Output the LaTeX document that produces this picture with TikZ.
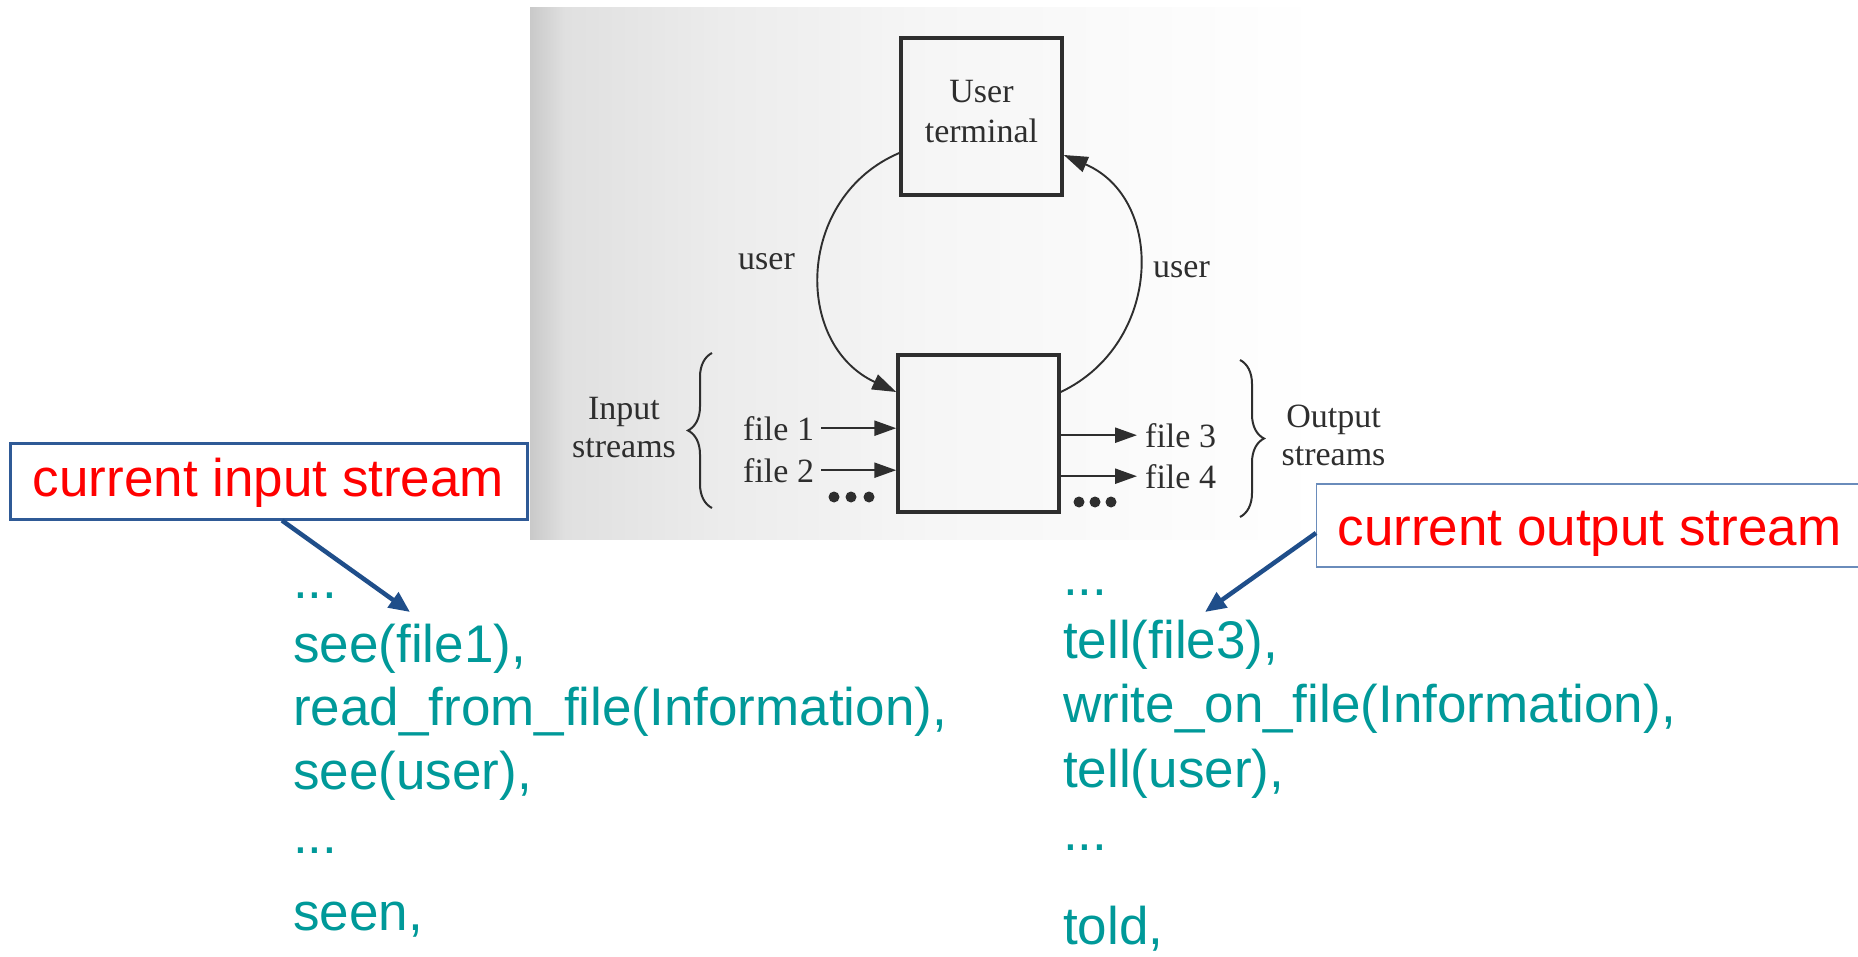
\documentclass[tikz,border=0pt]{standalone}
\usepackage{fontspec}
\usetikzlibrary{arrows.meta,decorations.pathreplacing,calc}
\newfontfamily\slidefont{Liberation Sans}
\newfontfamily\scanfont{Liberation Serif}
\definecolor{tealtext}{HTML}{009999}
\definecolor{scanink}{HTML}{2E2E2E}
\definecolor{arrowblue}{HTML}{1F4E8A}
\definecolor{inborder}{HTML}{2F5A96}
\definecolor{outborder}{HTML}{6A8CBB}
\definecolor{scanA}{HTML}{C9C9C9}
\definecolor{scanB}{HTML}{E0E0E0}
\definecolor{scanC}{HTML}{ECECEC}
\definecolor{scanD}{HTML}{F6F6F6}
\pgfdeclarehorizontalshading{scanshade}{100bp}{color(0bp)=(scanA); color(25bp)=(scanA); color(27bp)=(scanB); color(36bp)=(scanC); color(48bp)=(scanD); color(70bp)=(white); color(100bp)=(white)}
\begin{document}
\begin{tikzpicture}[x=1pt,y=-1pt,
  scantext/.style={font=\scanfont\fontsize{34}{38}\selectfont, text=scanink, inner sep=0pt},
  slidetext/.style={font=\slidefont\fontsize{53}{60}\selectfont, text=tealtext, inner sep=0pt, anchor=base west},
  scanbox/.style={draw=scanink, line width=3.5pt, minimum width=161pt, minimum height=157pt, inner sep=0pt},
  scanline/.style={draw=scanink, line width=1.9pt},
  scanarrow/.style={draw=scanink, line width=2.4pt, -{Triangle[length=22pt,width=15pt]}},
  calloutarrow/.style={draw=arrowblue, line width=4.5pt, -{Triangle[length=21pt,width=18pt]}},
  callout/.style={fill=white, font=\slidefont\fontsize{53}{60}\selectfont, text=red, inner sep=0pt}
]
\useasboundingbox (0,0) rectangle (1858,957);
\fill[white] (0,0) rectangle (1858,957);
% scanned figure background
\shade[shading=scanshade] (530,8) rectangle (1410,539);

% boxes
\node[scanbox] (term) at (981.5,116.5) {};
\node[scantext, align=center, font=\scanfont\fontsize{34}{40}\selectfont] (termtext) at ([yshift=4.5pt]term.center) {User\\terminal};
\node[scanbox] (proc) at (978.5,433.5) {};

% arcs
\draw[scanline, -{Triangle[length=24pt,width=16pt]}] ([yshift=-36.5pt]term.west) .. controls (796,197) and (793,344) .. ([yshift=41.5pt]proc.west);
\draw[scanline, -{Triangle[length=24pt,width=16pt]}] ([yshift=41.5pt]proc.east) .. controls (1162,344) and (1166,199) .. ([yshift=-38.5pt]term.east);
\node[scantext, anchor=base west] (userl) at (738,270) {user};
\node[scantext, anchor=base west] (userr) at (1153,278) {user};

% input files
\node[scantext, anchor=base west] (f1) at (743,440) {file 1};
\node[scantext, anchor=base west] (f2) at (743,482) {file 2};
\draw[scanarrow] ([xshift=7pt]f1.east) -- (f1.east -| proc.west);
\draw[scanarrow] ([xshift=7pt]f2.east) -- (f2.east -| proc.west);
\foreach \x in {834,851,869} \fill[scanink] (\x,497) circle (5.5pt);

% output files
\node[scantext, anchor=base west] (f3) at (1145,447) {file 3};
\node[scantext, anchor=base west] (f4) at (1145,488) {file 4};
\draw[scanarrow] (f3.west -| proc.east) -- ([xshift=-8pt]f3.west);
\draw[scanarrow] (f4.west -| proc.east) -- ([xshift=-8pt]f4.west);
\foreach \x in {1079,1095,1111} \fill[scanink] (\x,502) circle (5.5pt);

% braces and stream labels
\draw[scanline, line width=2pt, decorate, decoration={brace, amplitude=24pt}] (712,508) -- (712,353);
\draw[scanline, line width=2pt, decorate, decoration={brace, amplitude=24pt}] (1240,360) -- (1240,517);
\node[scantext, align=center] (instreams) at (624,428) {Input\\streams};
\node[scantext, align=center] (outstreams) at (1333.5,435) {Output\\streams};

% callouts
\node[callout, draw=inborder, line width=3pt, minimum width=517pt, minimum height=76pt, text height=38pt, text depth=8pt] (inbox) at (268.5,481) {current input stream};
\node[callout, draw=outborder, line width=1.2pt, minimum height=83pt, inner xsep=21pt, text height=44pt, text depth=5pt, anchor=west] (outbox) at (1316,525.5) {current output stream};

% code lines
\node[slidetext] (l1) at (293,598) {...};
\node[slidetext] (l2) at (293,662) {see(file1),};
\node[slidetext] (l3) at (293,725) {read\_from\_file(Information),};
\node[slidetext] (l4) at (293,789) {see(user),};
\node[slidetext] (l5) at (293,853) {...};
\node[slidetext] (l6) at (293,930) {seen,};

\node[slidetext] (r1) at (1063,595) {...};
\node[slidetext] (r2) at (1063,658) {tell(file3),};
\node[slidetext] (r3) at (1063,722) {write\_on\_file(Information),};
\node[slidetext] (r4) at (1063,787) {tell(user),};
\node[slidetext] (r5) at (1063,850) {...};
\node[slidetext] (r6) at (1063,944) {told,};

% callout arrows
\coordinate (intip) at (410,612);
\coordinate (outtip) at (1205,612);
\draw[calloutarrow] ([xshift=13.5pt]inbox.south) -- (intip);
\draw[calloutarrow] ([yshift=-7.5pt]outbox.west) -- (outtip);
\end{tikzpicture}
\end{document}
